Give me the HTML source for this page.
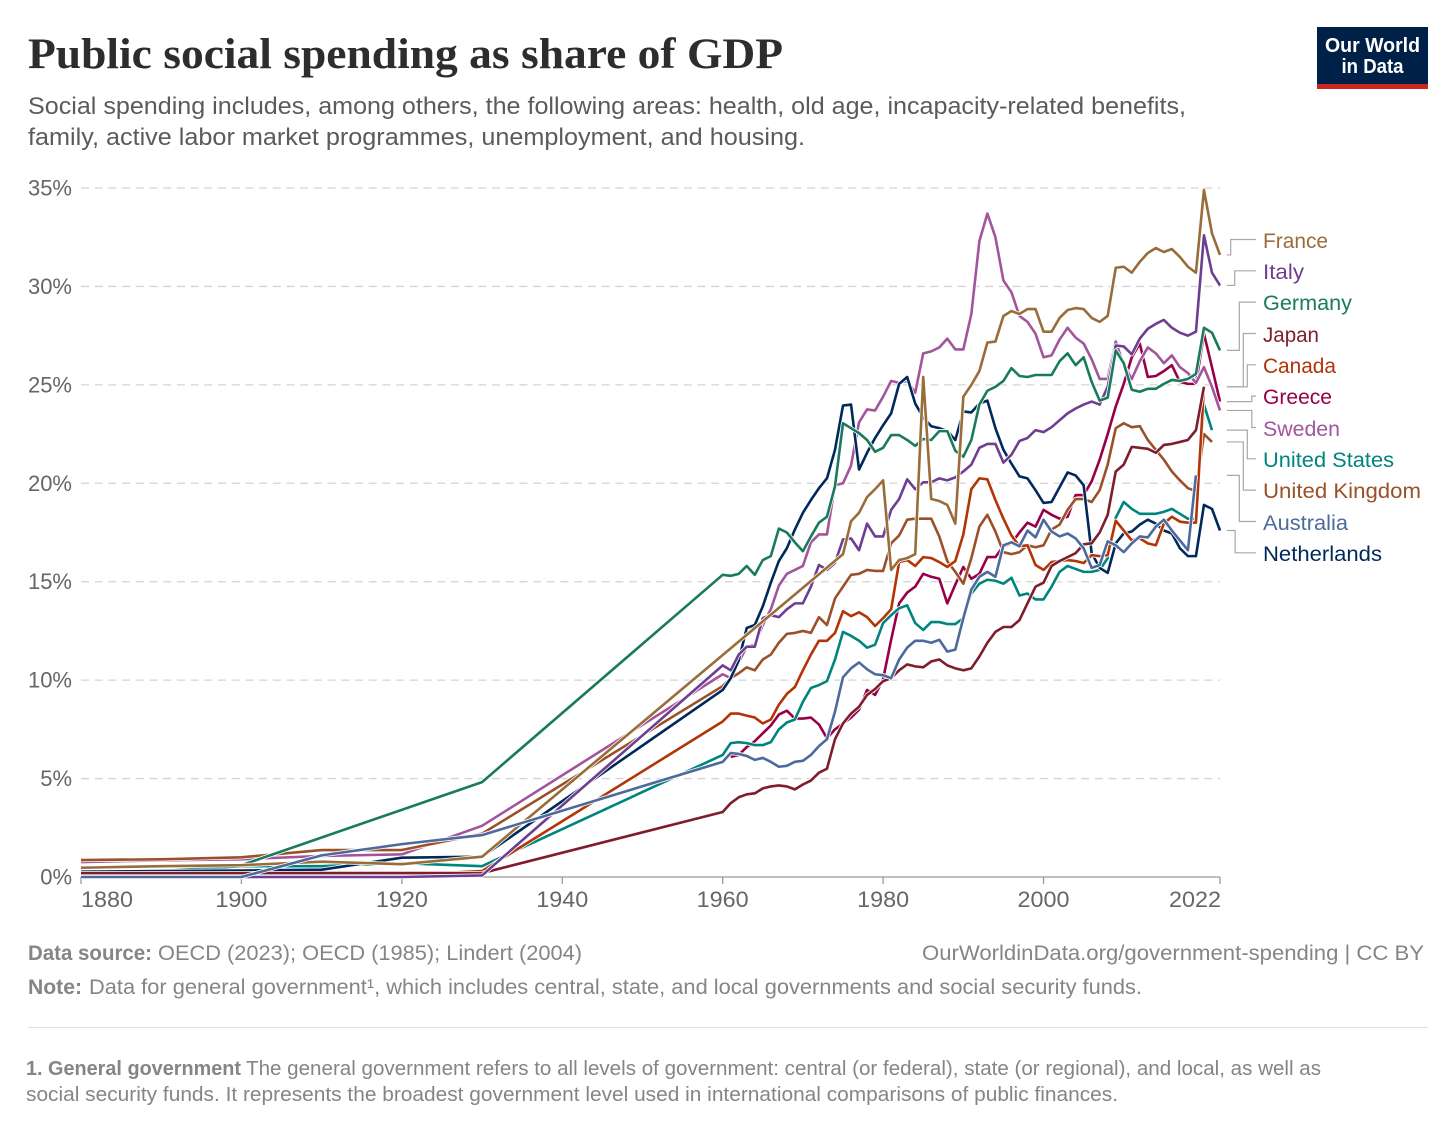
<!DOCTYPE html>
<html lang="en">
<head>
<meta charset="utf-8">
<title>Public social spending as share of GDP</title>
<style>
html,body{margin:0;padding:0;background:#fff;}
svg{display:block;font-family:"Liberation Sans",sans-serif;}
</style>
</head>
<body>
<svg id="chart" xmlns="http://www.w3.org/2000/svg" width="1456" height="1133" viewBox="0 0 1456 1133">
  <text x="28" y="68" font-family="'Liberation Serif',serif" font-weight="700" font-size="43" fill="#2d2d2d" textLength="755" lengthAdjust="spacingAndGlyphs">Public social spending as share of GDP</text>
  <text x="28" y="114" font-size="24" fill="#5b5b5b" textLength="1158" lengthAdjust="spacingAndGlyphs">Social spending includes, among others, the following areas: health, old age, incapacity-related benefits,</text>
  <text x="28" y="145" font-size="24" fill="#5b5b5b" textLength="777" lengthAdjust="spacingAndGlyphs">family, active labor market programmes, unemployment, and housing.</text>

  <g>
    <rect x="1317" y="27" width="111" height="62" fill="#002147"/>
    <rect x="1317" y="84" width="111" height="5" fill="#ce261e"/>
    <text x="1372.5" y="52" text-anchor="middle" font-size="20" font-weight="700" fill="#fff" textLength="95" lengthAdjust="spacingAndGlyphs">Our World</text>
    <text x="1372.5" y="73" text-anchor="middle" font-size="20" font-weight="700" fill="#fff" textLength="62" lengthAdjust="spacingAndGlyphs">in Data</text>
  </g>

  <g id="grid"></g>
  <g id="xaxis"></g>
  <g id="series"></g>
  <g id="connectors"></g>

  <g font-size="21.5">
    <text x="1263" y="248" fill="#996D39" textLength="65" lengthAdjust="spacingAndGlyphs">France</text>
    <text x="1263" y="279" fill="#6D3E91" textLength="41" lengthAdjust="spacingAndGlyphs">Italy</text>
    <text x="1263" y="310" fill="#1a7a5e" textLength="89" lengthAdjust="spacingAndGlyphs">Germany</text>
    <text x="1263" y="342" fill="#7e1d2c" textLength="56" lengthAdjust="spacingAndGlyphs">Japan</text>
    <text x="1263" y="373" fill="#B13507" textLength="73" lengthAdjust="spacingAndGlyphs">Canada</text>
    <text x="1263" y="404" fill="#970046" textLength="69" lengthAdjust="spacingAndGlyphs">Greece</text>
    <text x="1263" y="436" fill="#A2559C" textLength="77" lengthAdjust="spacingAndGlyphs">Sweden</text>
    <text x="1263" y="467" fill="#00847E" textLength="131" lengthAdjust="spacingAndGlyphs">United States</text>
    <text x="1263" y="498" fill="#9A5129" textLength="158" lengthAdjust="spacingAndGlyphs">United Kingdom</text>
    <text x="1263" y="530" fill="#4C6A9C" textLength="85" lengthAdjust="spacingAndGlyphs">Australia</text>
    <text x="1263" y="561" fill="#00295B" textLength="119" lengthAdjust="spacingAndGlyphs">Netherlands</text>
  </g>

  <g font-size="21">
    <text x="28" y="960" font-weight="700" fill="#858585" textLength="124" lengthAdjust="spacingAndGlyphs">Data source:</text>
    <text x="158" y="960" fill="#858585" textLength="424" lengthAdjust="spacingAndGlyphs">OECD (2023); OECD (1985); Lindert (2004)</text>
    <text x="922" y="960" fill="#858585" textLength="502" lengthAdjust="spacingAndGlyphs">OurWorldinData.org/government-spending | CC BY</text>
    <text x="28" y="994" font-weight="700" fill="#858585" textLength="54" lengthAdjust="spacingAndGlyphs">Note:</text>
    <text x="89" y="994" fill="#858585" textLength="1053" lengthAdjust="spacingAndGlyphs">Data for general government¹, which includes central, state, and local governments and social security funds.</text>
    <rect x="28" y="1027" width="1400" height="1" fill="#dddddd"/>
    <text x="26" y="1075" font-size="20" font-weight="700" fill="#858585" textLength="215" lengthAdjust="spacingAndGlyphs">1. General government</text>
    <text x="246" y="1075" font-size="20" fill="#858585" textLength="1075" lengthAdjust="spacingAndGlyphs">The general government refers to all levels of government: central (or federal), state (or regional), and local, as well as</text>
    <text x="26" y="1101" font-size="20" fill="#858585" textLength="1092" lengthAdjust="spacingAndGlyphs">social security funds. It represents the broadest government level used in international comparisons of public finances.</text>
  </g>
</svg>

<script>
var years = [1880,1890,1900,1910,1920,1930,
  1960,1961,1962,1963,1964,1965,1966,1967,1968,1969,
  1970,1971,1972,1973,1974,1975,1976,1977,1978,1979,
  1980,1981,1982,1983,1984,1985,1986,1987,1988,1989,
  1990,1991,1992,1993,1994,1995,1996,1997,1998,1999,
  2000,2001,2002,2003,2004,2005,2006,2007,2008,2009,
  2010,2011,2012,2013,2014,2015,2016,2017,2018,2019,
  2020,2021,2022];

var greece = [null,null,null,null,null,null,
  null,6.1,6.2,6.6,6.9,7.3,7.7,8.25,8.45,8.05,
  8.05,8.1,7.75,7.05,7.5,7.8,8.1,8.5,9.5,9.25,
  10.05,12.05,13.9,14.45,14.75,15.4,15.25,15.15,13.9,14.85,
  15.75,15.15,15.4,16.25,16.25,16.8,16.95,17.5,18.0,17.8,
  18.65,18.4,18.2,18.3,19.4,19.4,20.1,21.2,22.5,23.9,
  25.05,26.4,27.1,25.4,25.45,25.7,26.0,25.15,25.05,25.05,
  27.6,25.9,24.15];
var sweden = [0.76,0.85,0.9,1.07,1.15,2.6,
  10.3,10.1,10.9,11.7,11.8,12.8,13.6,14.8,15.4,15.6,
  15.8,17.0,17.4,17.4,19.9,20.0,20.9,23.1,23.75,23.7,
  24.4,25.2,25.1,25.2,24.6,26.6,26.7,26.9,27.35,26.8,
  26.8,28.6,32.3,33.7,32.5,30.3,29.7,28.5,28.2,27.6,
  26.4,26.5,27.3,27.9,27.4,27.1,26.3,25.3,25.3,27.2,
  26.0,25.3,26.2,26.9,26.6,26.1,26.5,25.9,25.6,25.1,
  25.9,24.9,23.7];
var unitedStates = [0.3,0.3,0.55,0.55,0.7,0.55,
  6.2,6.8,6.85,6.8,6.7,6.7,6.85,7.5,7.85,8.0,
  8.9,9.6,9.75,9.95,11.05,12.45,12.25,12.0,11.65,11.8,
  12.9,13.3,13.65,13.8,12.9,12.55,12.95,12.95,12.85,12.85,
  13.15,14.4,14.9,15.1,15.05,14.9,15.2,14.3,14.4,14.1,
  14.1,14.75,15.5,15.8,15.65,15.5,15.5,15.6,16.2,18.25,
  19.05,18.7,18.45,18.45,18.45,18.55,18.7,18.45,18.2,18.2,
  24.0,22.7,null];
var unitedKingdom = [0.86,0.9,1.0,1.37,1.37,2.2,
  9.7,10.1,10.35,10.65,10.5,11.05,11.3,11.9,12.35,12.4,
  12.5,12.4,13.2,12.8,14.15,14.75,15.35,15.4,15.6,15.55,
  15.55,16.95,17.35,18.15,18.2,18.2,18.2,17.3,16.05,15.5,
  14.9,16.2,17.8,18.4,17.55,16.5,16.4,16.5,16.85,16.75,
  16.85,17.65,17.9,18.65,19.2,19.2,19.05,19.65,20.95,22.8,
  23.05,22.85,22.9,22.2,21.7,21.2,20.6,20.15,19.75,19.6,
  22.5,22.1,null];
var netherlands = [0.27,0.3,0.33,0.37,0.98,1.03,
  9.5,10.1,11.0,12.65,12.8,13.75,14.95,16.05,16.7,17.65,
  18.5,19.15,19.75,20.25,21.7,23.95,24.0,20.7,21.55,22.3,
  22.95,23.55,25.05,25.4,24.05,23.35,22.9,22.8,22.65,22.2,
  23.65,23.6,24.05,24.2,22.8,21.7,21.0,20.35,20.25,19.65,
  19.0,19.05,19.8,20.55,20.4,19.9,16.45,15.7,15.45,16.95,
  17.45,17.55,17.9,18.15,17.95,17.6,17.45,16.7,16.3,16.3,
  18.9,18.7,17.6];
var canada = [0,0,0,0.05,0.1,0.3,
  7.9,8.3,8.3,8.2,8.1,7.8,8.0,8.75,9.3,9.65,
  10.5,11.3,12.0,12.0,12.4,13.5,13.25,13.45,13.2,12.75,
  13.15,13.6,16.0,16.1,15.8,16.25,16.2,16.0,15.75,16.05,
  17.4,19.7,20.25,20.2,19.15,18.2,17.35,16.8,16.85,15.85,
  15.6,16.0,16.05,16.1,16.05,15.95,16.35,16.3,16.35,18.1,
  17.6,17.1,17.2,16.95,16.85,17.95,18.3,18.05,18.0,18.0,
  24.9,null,null];
var japan = [0.2,0.2,0.2,0.2,0.2,0.2,
  3.3,3.75,4.05,4.2,4.25,4.5,4.6,4.65,4.6,4.45,
  4.7,4.9,5.3,5.5,7.0,7.8,8.3,8.65,9.25,9.55,
  9.95,10.1,10.5,10.8,10.7,10.65,10.95,11.05,10.75,10.6,
  10.5,10.6,11.2,11.9,12.45,12.7,12.7,13.05,13.9,14.75,
  14.95,15.8,16.05,16.25,16.45,16.9,16.95,17.5,18.4,20.6,
  20.95,21.85,21.8,21.75,21.55,21.95,22.0,22.1,22.2,22.7,
  24.9,null,null];
var italy = [0,0,0,0,0,0.08,
  10.75,10.5,11.3,11.7,11.7,13.15,13.3,13.2,13.6,13.9,
  13.9,14.75,15.85,15.6,15.95,17.15,17.2,16.6,17.95,17.3,
  17.3,18.65,19.2,20.2,19.7,20.05,20.05,20.25,20.15,20.3,
  20.6,20.95,21.8,22.0,22.0,21.05,21.45,22.15,22.3,22.7,
  22.6,22.85,23.2,23.55,23.8,24.0,24.15,24.0,24.9,27.0,
  26.95,26.55,27.35,27.85,28.1,28.3,27.9,27.65,27.5,27.7,
  32.6,30.7,30.05];
var germany = [null,null,0.6,null,null,4.82,
  15.35,15.3,15.4,15.8,15.35,16.1,16.3,17.7,17.5,17.0,
  16.55,17.3,18.0,18.3,19.85,23.05,22.8,22.55,22.2,21.6,
  21.8,22.45,22.45,22.2,21.9,22.25,22.2,22.65,22.65,21.65,
  21.35,22.2,24.0,24.7,24.9,25.2,25.85,25.45,25.4,25.5,
  25.5,25.5,26.2,26.6,26.0,26.4,25.15,24.2,24.35,26.75,
  26.1,24.75,24.65,24.8,24.8,25.05,25.25,25.2,25.3,25.55,
  27.9,27.65,26.75];
var france = [0.47,0.55,0.6,0.78,0.65,1.03,
  null,null,null,null,null,null,null,null,null,null,
  null,null,null,null,null,16.4,18.07,18.5,19.3,19.7,
  20.15,15.6,16.1,16.2,16.4,25.4,19.2,19.1,18.9,17.95,
  24.4,25.0,25.7,27.15,27.2,28.5,28.75,28.6,28.85,28.85,
  27.7,27.7,28.4,28.8,28.9,28.85,28.4,28.2,28.5,30.95,
  31.0,30.7,31.25,31.7,31.95,31.75,31.9,31.5,31.0,30.7,
  34.9,32.7,31.6];
var australia = [0,0,0,1.1,1.67,2.13,
  5.85,6.3,6.25,6.15,5.95,6.05,5.85,5.6,5.65,5.85,
  5.9,6.2,6.65,7.0,8.4,10.15,10.6,10.9,10.55,10.3,
  10.25,10.1,11.05,11.65,12.0,12.0,11.9,12.05,11.45,11.55,
  13.15,14.6,15.25,15.5,15.25,16.85,17.0,16.8,17.6,17.25,
  18.15,17.55,17.3,17.45,17.2,16.7,15.7,15.85,17.05,16.85,
  16.5,16.95,17.3,17.25,17.8,18.15,17.6,17.1,16.6,20.4,
  null,null,null];

var yTicks = [0,5,10,15,20,25,30,35];
var yTickLabels = ["0%","5%","10%","15%","20%","25%","30%","35%"];
var xTicks = [1880,1900,1920,1940,1960,1980,2000,2022];
var xTickLabels = ["1880","1900","1920","1940","1960","1980","2000","2022"];

var NS = "http://www.w3.org/2000/svg";
function xScale(year){ return 81 + (year - 1880) * (1220 - 81) / (2022 - 1880); }
function yScale(v){ return 877 - v * (877 - 188) / 35; }
function mk(tag, attrs, parent){
  var el = document.createElementNS(NS, tag);
  for (var k in attrs) el.setAttribute(k, attrs[k]);
  parent.appendChild(el);
  return el;
}

var gridG = document.getElementById("grid");
yTicks.forEach(function(t, i){
  if (t !== 0) {
    var ln = mk("line", {x1:81, x2:1220, y1:yScale(t), y2:yScale(t), stroke:"#d4d4d4", "stroke-width":1.3, "stroke-dasharray":"8 5.7"}, gridG);
    
    
  }
  var lab = mk("text", {x:72, y:yScale(t)+7.5, "text-anchor":"end", "font-size":22, fill:"#666666"}, gridG);
  
  
  lab.textContent = yTickLabels[i];
});

var xG = document.getElementById("xaxis");
var axisLine = mk("line", {x1:81, x2:1220, y1:877, y2:877, stroke:"#999999", "stroke-width":1.3}, xG);


xTicks.forEach(function(t, i){
  var px = xScale(t);
  var tk = mk("line", {x1:px, x2:px, y1:877, y2:884, stroke:"#999999", "stroke-width":1.3}, xG);
  
  
  var lx = px;
  if (i === 0) lx = px + 26;
  if (i === xTicks.length - 1) lx = px - 25;
  var lab = mk("text", {x:lx, y:907, "text-anchor":"middle", "font-size":22, fill:"#666666", textLength:52, lengthAdjust:"spacingAndGlyphs"}, xG);
  
  
  lab.textContent = xTickLabels[i];
});

function linePath(values){
  var d = "", started = false;
  for (var i = 0; i < years.length; i++) {
    if (values[i] === null || values[i] === undefined) continue;
    d += (started ? "L" : "M") + xScale(years[i]).toFixed(2) + " " + yScale(values[i]).toFixed(2);
    started = true;
  }
  return d;
}

var seriesG = document.getElementById("series");
var drawOrder = [
  ["greece", greece, "#970046"],
  ["sweden", sweden, "#A2559C"],
  ["united-states", unitedStates, "#00847E"],
  ["united-kingdom", unitedKingdom, "#9A5129"],
  ["netherlands", netherlands, "#00295B"],
  ["canada", canada, "#B13507"],
  ["japan", japan, "#7e1d2c"],
  ["italy", italy, "#6D3E91"],
  ["germany", germany, "#1a7a5e"],
  ["france", france, "#996D39"],
  ["australia", australia, "#4C6A9C"]
];
drawOrder.forEach(function(s){
  var d = linePath(s[1]);
  var halo = mk("path", {d:d, fill:"none", stroke:"#ffffff", "stroke-width":4.2, "stroke-linejoin":"round"}, seriesG);
  
  
  var p = mk("path", {d:d, fill:"none", stroke:s[2], "stroke-width":2.6, "stroke-linejoin":"round"}, seriesG);
  
  
});

function lastValue(values){
  for (var i = values.length - 1; i >= 0; i--) if (values[i] !== null) return values[i];
  return 0;
}
var connG = document.getElementById("connectors");
var legendOrder = [
  ["france", france, 3.9],
  ["italy", italy, 7.9],
  ["germany", germany, 12.5],
  ["japan", japan, 16.5],
  ["canada", canada, 20.5],
  ["greece", greece, 25],
  ["sweden", sweden, 25],
  ["united-states", unitedStates, 20.5],
  ["united-kingdom", unitedKingdom, 16.5],
  ["australia", australia, 12.5],
  ["netherlands", netherlands, 8.3]
];
legendOrder.forEach(function(c, i){
  var y0 = yScale(lastValue(c[1]));
  var y1 = 239.5 + i * 31.33;
  var bx = 1226.8 + c[2];
  var pl = mk("path", {d:"M1226.8 " + y0.toFixed(2) + "L" + bx + " " + y0.toFixed(2) + "L" + bx + " " + y1.toFixed(2) + "L1256 " + y1.toFixed(2), fill:"none", stroke:"#a8a8a8", "stroke-width":1.2}, connG);
  
  
});
</script>
</body>
</html>
